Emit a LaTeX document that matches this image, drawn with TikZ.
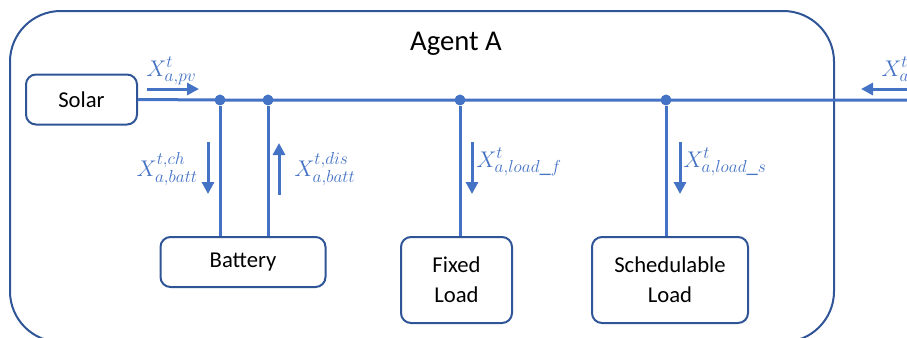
\RequirePackage{fix-cm}
\documentclass[tikz,border=0pt]{standalone}
\usepackage{fontspec}
\setmainfont{Carlito}
\usetikzlibrary{arrows.meta}
\DeclareMathSizes{17}{17}{13}{10}
\definecolor{busblue}{HTML}{4472C4}
\definecolor{edgeblue}{HTML}{2F5597}
\tikzset{
  agentframe/.style={draw=edgeblue, line width=1.5pt, rounded corners=38pt},
  unit/.style={draw=edgeblue, line width=1.5pt, rounded corners=7.5pt, fill=white,
    align=center, inner sep=0pt, font=\fontsize{17}{22.5}\selectfont},
  bus/.style={draw=busblue, line width=2.25pt},
  junction/.style={circle, fill=busblue, minimum size=8pt, inner sep=0pt},
  flow/.style={draw=busblue, line width=2.25pt, -{Triangle[length=9pt,width=9pt]}},
  lbl/.style={text=busblue, inner sep=0pt, font=\fontsize{17}{20}\selectfont},
}
\begin{document}
\begin{tikzpicture}[x=0.75pt, y=-0.75pt]
\useasboundingbox (0,0) rectangle (907,337);
\clip (0,0) rectangle (907,337);

% agent frame and its title
\draw[agentframe] (10,11) rectangle (834,342);
\node[anchor=base, inner sep=0pt, font=\fontsize{21.5}{26}\selectfont] (title) at (456,50) {Agent A};

% devices
\node[unit, minimum width=83.25pt, minimum height=37.5pt] (solar) at (81.5,99.5) {Solar};
\node[unit, minimum width=123.75pt, minimum height=37.5pt] (battery) at (243,262) {Battery};
\node[unit, minimum width=83.25pt, minimum height=64.5pt] (fixed) at (456.5,280) {Fixed\\Load};
\node[unit, minimum width=117pt, minimum height=64.5pt] (sched) at (670,280) {Schedulable\\Load};

% bus junctions
\coordinate (busend) at (912,100);
\node[junction] (jch) at (220,100) {};
\node[junction] (jdis) at (268,100) {};
\node[junction] (jfix) at (460,100) {};
\node[junction] (jsch) at (666,100) {};

% bus and feeders
\draw[bus] (solar.east) -- (jch.center) -- (jdis.center) -- (jfix.center) -- (jsch.center) -- (busend);
\draw[bus] (jch) -- (jch |- battery.north);
\draw[bus] (jdis) -- (jdis |- battery.north);
\draw[bus] (jfix) -- (jfix |- fixed.north);
\draw[bus] (jsch) -- (jsch |- sched.north);
\node[junction] at (jch) {};
\node[junction] at (jdis) {};
\node[junction] at (jfix) {};
\node[junction] at (jsch) {};

% power flow arrows
\coordinate (pvS) at (147,89);   \coordinate (pvE) at (199,89);
\coordinate (chS) at (208,142);  \coordinate (chE) at (208,194);
\coordinate (disS) at (279,195); \coordinate (disE) at (279,143);
\coordinate (lfS) at (472,142);  \coordinate (lfE) at (472,194);
\coordinate (lsS) at (680,142);  \coordinate (lsE) at (680,194);
\coordinate (grS) at (912,89);   \coordinate (grE) at (861,89);
\draw[flow] (pvS) -- (pvE);
\draw[flow] (chS) -- (chE);
\draw[flow] (disS) -- (disE);
\draw[flow] (lfS) -- (lfE);
\draw[flow] (lsS) -- (lsE);
\draw[flow] (grS) -- (grE);

% flow labels
\node[lbl, anchor=base west] (lpv) at (146,76) {$X^{t}_{a,pv}$};
\node[lbl, anchor=base east] (lch) at (198,176) {$X^{t,ch}_{a,batt}$};
\node[lbl, anchor=base west] (ldis) at (294,176) {$X^{t,dis}_{a,batt}$};
\node[lbl, anchor=base west] (llf) at (476,167) {$X^{t}_{a,load\_f}$};
\node[lbl, anchor=base west] (lls) at (683,167) {$X^{t}_{a,load\_s}$};
\node[lbl, anchor=base west] (lgr) at (881,76) {$X^{t}_{a}$};
\end{tikzpicture}
\end{document}
